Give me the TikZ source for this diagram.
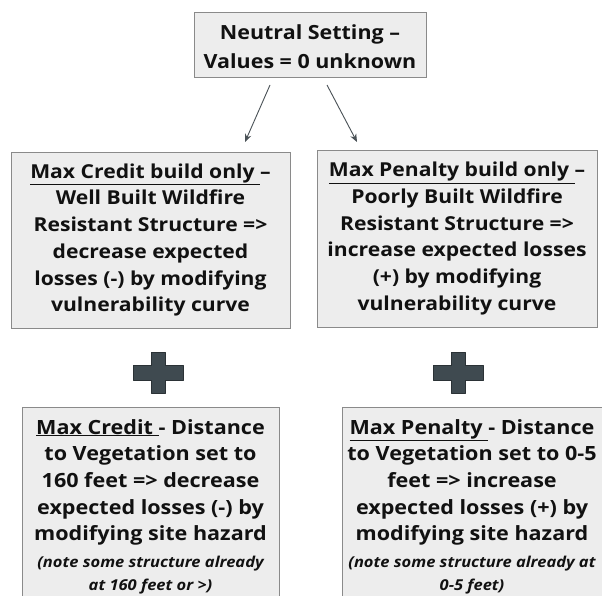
\documentclass[tikz,border=0pt]{standalone}
\usepackage{fontspec}
\setmainfont{Open Sans}[FakeStretch=1.1]
\usetikzlibrary{arrows.meta,calc}
\definecolor{boxfill}{HTML}{EDEDED}
\definecolor{boxline}{HTML}{8A8A8A}
\definecolor{plusfill}{HTML}{3F4A50}
\definecolor{plusline}{HTML}{2B3236}
\definecolor{arrcol}{HTML}{4A5257}
\definecolor{txt}{HTML}{111111}
\tikzset{
  panel/.style={draw=boxline, fill=boxfill, line width=0.9pt, inner sep=0pt, text=txt, align=center},
  maintext/.style={font=\fontsize{19.6}{26.7}\selectfont\bfseries, text=txt, align=center, inner sep=0pt},
  arr/.style={-{Stealth[length=8pt,width=6.5pt]}, draw=arrcol, line width=0.9pt},
  plusshape/.style={fill=plusfill, draw=plusline, line width=1pt, line join=round}
}
\newcommand{\smallnote}[1]{{\fontsize{15}{22.5}\selectfont\bfseries\itshape #1}}
\begin{document}
\begin{tikzpicture}[x=1pt,y=-1pt]
\useasboundingbox (0,0) rectangle (602,596);
\fill[white] (0,0) rectangle (602,596);
\begin{scope}
\clip (0,0) rectangle (602,596);
% top box
\node[panel, minimum width=232pt, minimum height=65pt] (top) at (310,44.5) {};
\node[maintext, font=\fontsize{19.5}{28.5}\selectfont\bfseries] (toptext) at (310,46.5)
  {Neutral Setting –\\Values = 0 unknown};
% middle boxes
\node[panel, minimum width=279pt, minimum height=176pt,
  font=\fontsize{19.2}{26.7}\selectfont\bfseries] (ml) at (150.5,240)
  {\underline{Max Credit build only\ }–\\Well Built Wildfire\\Resistant Structure =>\\decrease expected\\losses (-) by modifying\\vulnerability curve};
\node[panel, minimum width=280pt, minimum height=177pt,
  font=\fontsize{19.2}{26.7}\selectfont\bfseries] (mr) at (457,238.5)
  {\underline{Max Penalty build only\ }–\\Poorly Built Wildfire\\Resistant Structure =>\\increase expected losses\\(+) by modifying\\vulnerability curve};
% arrows
\coordinate (a1s) at (270,85);
\coordinate (a1e) at (245,142);
\coordinate (a2s) at (327,85);
\coordinate (a2e) at (357,142);
\draw[arr] (a1s) -- (a1e);
\draw[arr] (a2s) -- (a2e);
% plus signs
\foreach \n/\cx in {pl/158, pr/458}{
  \coordinate (\n) at (\cx,372.5);
  \draw[plusshape] ($(\n)+(-7,-20.5)$) -- ($(\n)+(7,-20.5)$) -- ($(\n)+(7,-7.5)$) -- ($(\n)+(25,-7.5)$)
    -- ($(\n)+(25,7.5)$) -- ($(\n)+(7,7.5)$) -- ($(\n)+(7,20.5)$) -- ($(\n)+(-7,20.5)$)
    -- ($(\n)+(-7,7.5)$) -- ($(\n)+(-25,7.5)$) -- ($(\n)+(-25,-7.5)$) -- ($(\n)+(-7,-7.5)$) -- cycle;
}
% bottom boxes
\node[panel, minimum width=257pt, minimum height=215pt, anchor=north] (bl) at (150.5,407) {};
\node[panel, minimum width=264pt, minimum height=215pt, anchor=north] (br) at (474,407) {};
\node[maintext, anchor=north] (blt) at (150.5,419)
  {\underline{Max Credit\ }- Distance\\to Vegetation set to\\160 feet => decrease\\expected losses (-) by\\modifying site hazard\\
   \smallnote{(note some structure already}\\[-4pt]\smallnote{at 160 feet or >)}};
\node[maintext, anchor=north] (brt) at (472,419)
  {\underline{Max Penalty\ }- Distance\\to Vegetation set to 0-5\\feet => increase\\expected losses (+) by\\modifying site hazard\\
   \smallnote{(note some structure already at}\\[-4pt]\smallnote{0-5 feet)}};
\end{scope}
\end{tikzpicture}
\end{document}
